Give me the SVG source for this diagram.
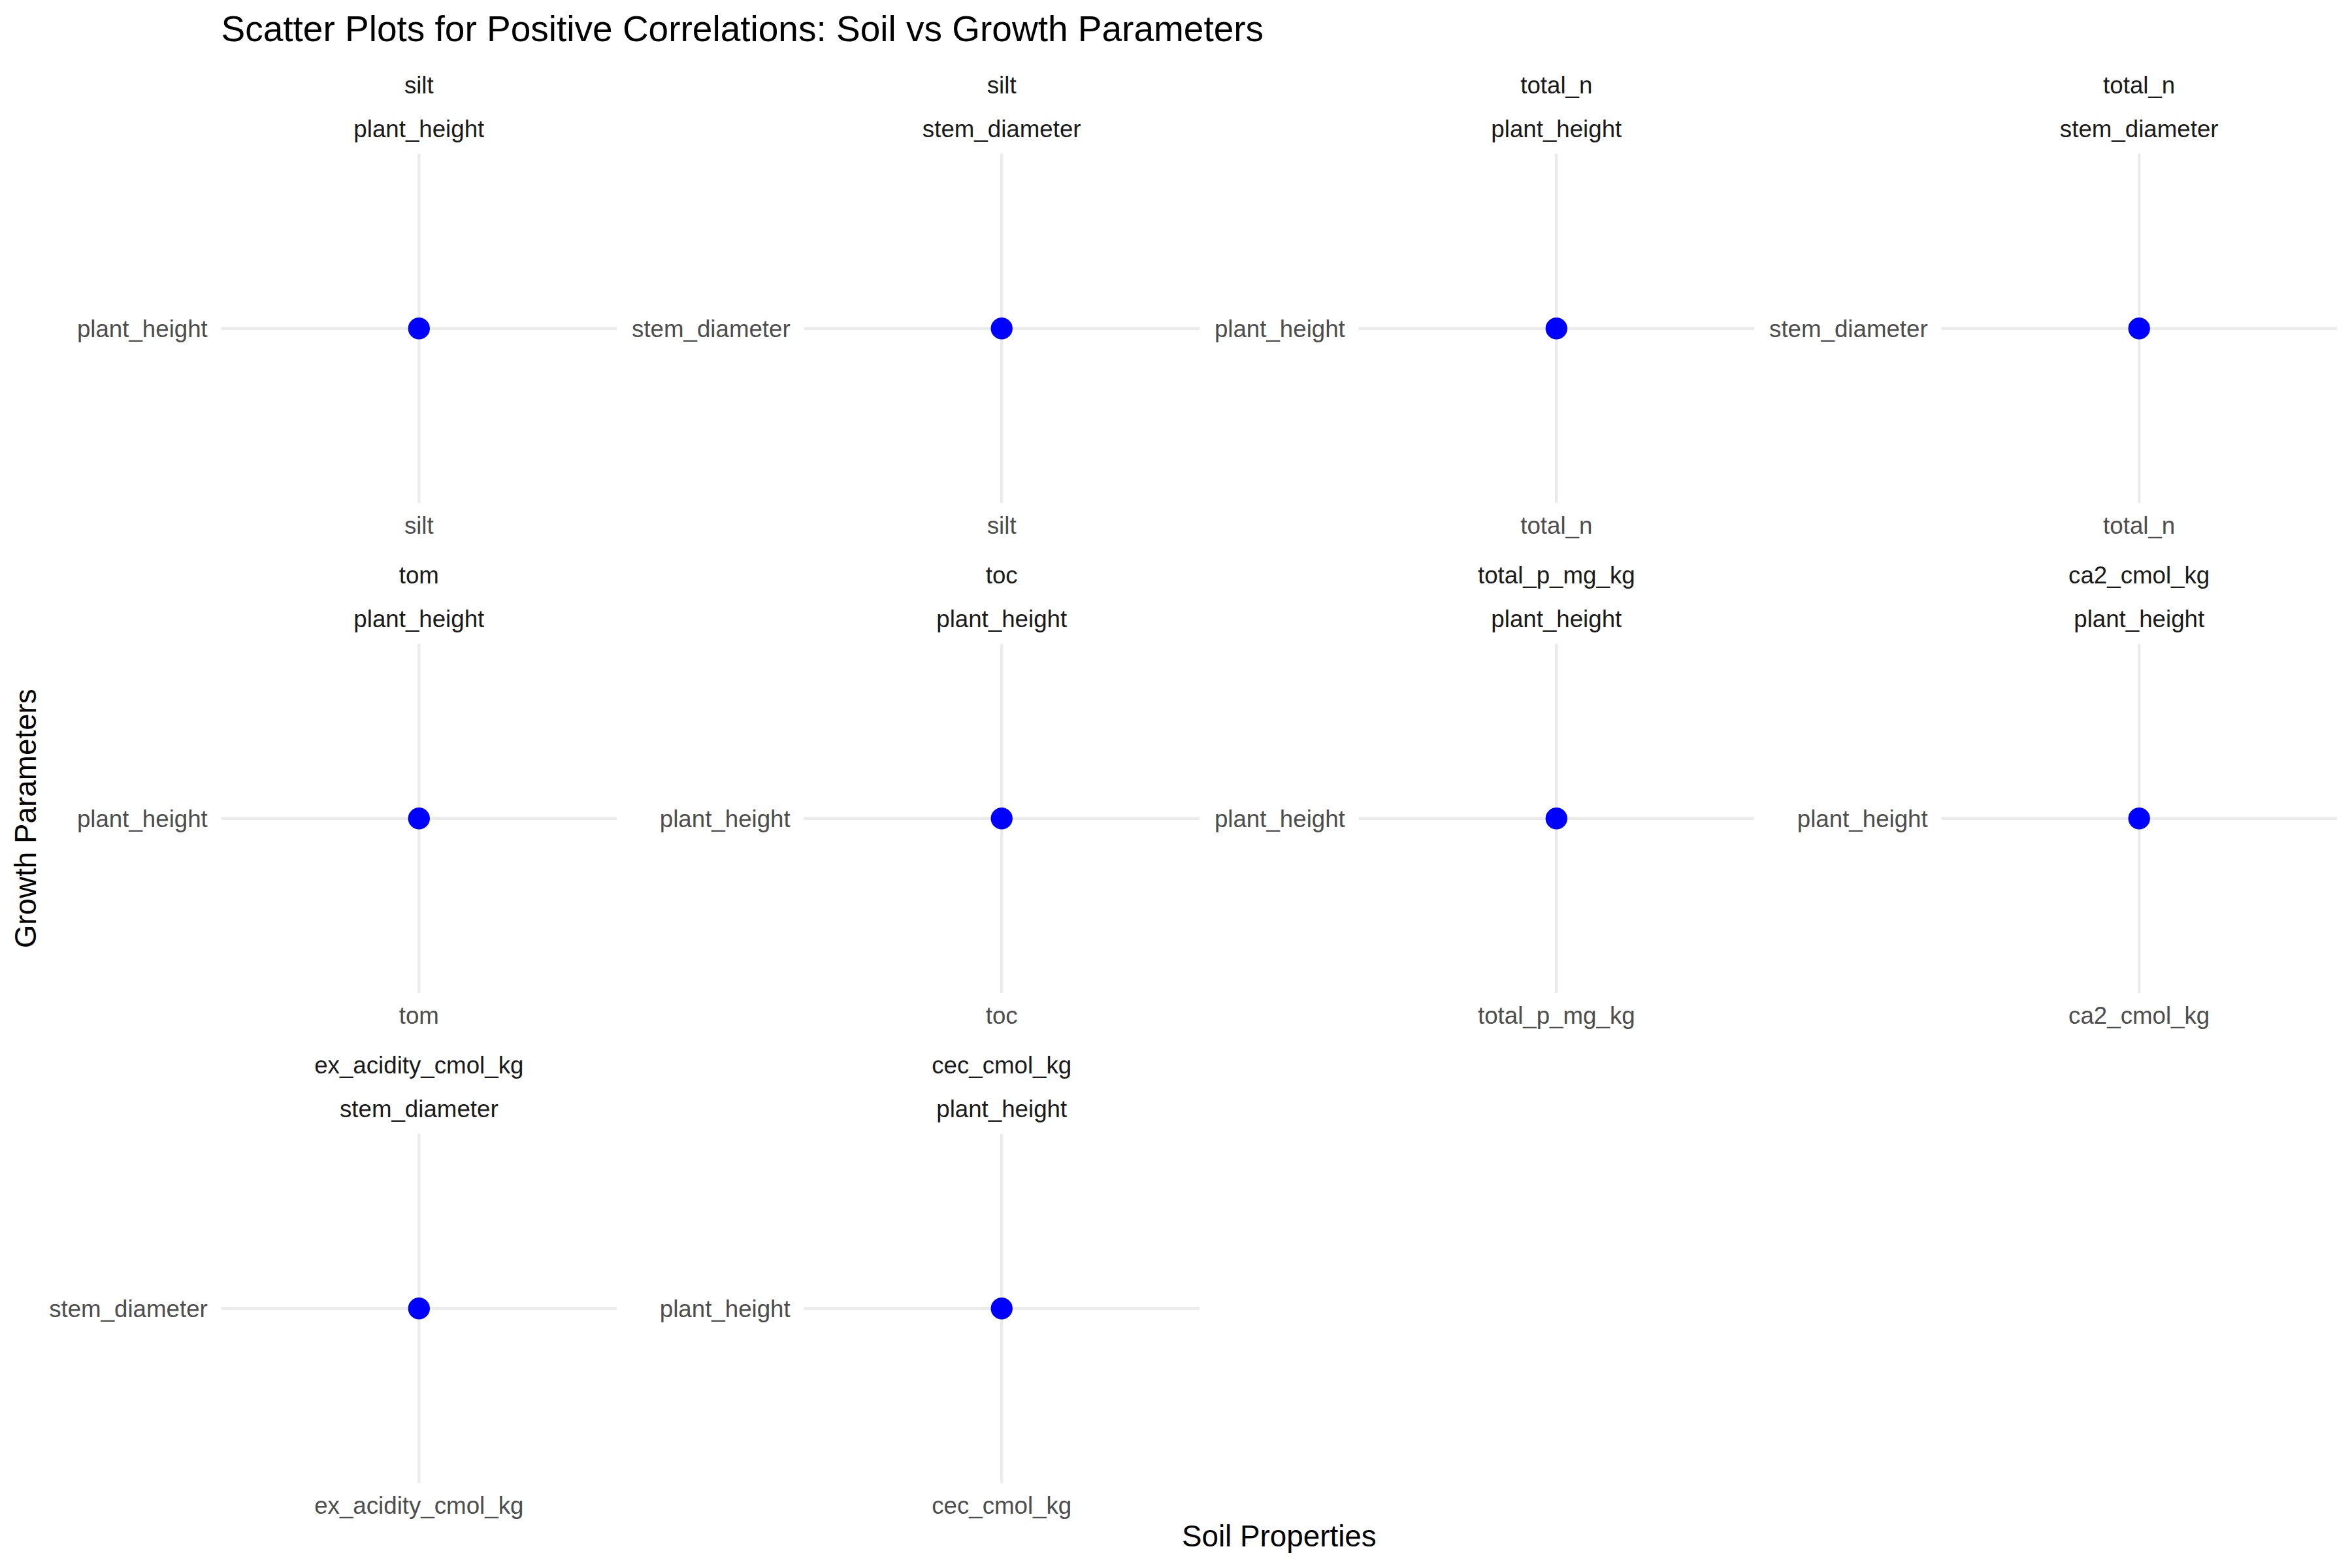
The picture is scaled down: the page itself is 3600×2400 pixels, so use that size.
<svg xmlns="http://www.w3.org/2000/svg" width="3600" height="2400" viewBox="0 0 3600 2400">
<style>
text{font-family:"Liberation Sans",Arial,Helvetica,sans-serif}
.title{font-size:55px;fill:#000000}
.axt{font-size:45.8px;fill:#000000}
.strip{font-size:36.7px;fill:#1A1A1A;text-anchor:middle}
.xl{font-size:36.7px;fill:#4D4D4D;text-anchor:middle}
.yl{font-size:36.7px;fill:#4D4D4D;text-anchor:end}
.grid{stroke:#EBEBEB;stroke-width:4.44;fill:none}
.pt{fill:#0000FF}
</style>
<rect width="3600" height="2400" fill="#FFFFFF"/>
<text id="title" class="title" x="338.5" y="62.5">Scatter Plots for Positive Correlations: Soil vs Growth Parameters</text>
<text id="xtitle" class="axt" x="1957.8" y="2367" text-anchor="middle">Soil Properties</text>
<text id="ytitle" class="axt" transform="translate(55,1252.75) rotate(-90)" text-anchor="middle">Growth Parameters</text>

<g id="connectors"></g>

<!-- Row 1 -->
<g id="panel-silt-plant_height">
<line class="grid" x1="338.5" y1="502.75" x2="944.1" y2="502.75"/>
<line class="grid" x1="641.3" y1="235.5" x2="641.3" y2="770"/>
<circle class="pt" cx="641.3" cy="502.75" r="16.7"/>
<text class="strip" x="641.3" y="143.3">silt</text>
<text class="strip" x="641.3" y="210">plant_height</text>
<text class="yl" x="317.8" y="515.8">plant_height</text>
<text class="xl" x="641.3" y="817">silt</text>
</g>
<g id="panel-silt-stem_diameter">
<line class="grid" x1="1230.4" y1="502.75" x2="1836" y2="502.75"/>
<line class="grid" x1="1533.2" y1="235.5" x2="1533.2" y2="770"/>
<circle class="pt" cx="1533.2" cy="502.75" r="16.7"/>
<text class="strip" x="1533.2" y="143.3">silt</text>
<text class="strip" x="1533.2" y="210">stem_diameter</text>
<text class="yl" x="1209.7" y="515.8">stem_diameter</text>
<text class="xl" x="1533.2" y="817">silt</text>
</g>
<g id="panel-total_n-plant_height">
<line class="grid" x1="2079.5" y1="502.75" x2="2685.1" y2="502.75"/>
<line class="grid" x1="2382.3" y1="235.5" x2="2382.3" y2="770"/>
<circle class="pt" cx="2382.3" cy="502.75" r="16.7"/>
<text class="strip" x="2382.3" y="143.3">total_n</text>
<text class="strip" x="2382.3" y="210">plant_height</text>
<text class="yl" x="2058.8" y="515.8">plant_height</text>
<text class="xl" x="2382.3" y="817">total_n</text>
</g>
<g id="panel-total_n-stem_diameter">
<line class="grid" x1="2971.4" y1="502.75" x2="3577" y2="502.75"/>
<line class="grid" x1="3274.2" y1="235.5" x2="3274.2" y2="770"/>
<circle class="pt" cx="3274.2" cy="502.75" r="16.7"/>
<text class="strip" x="3274.2" y="143.3">total_n</text>
<text class="strip" x="3274.2" y="210">stem_diameter</text>
<text class="yl" x="2950.7" y="515.8">stem_diameter</text>
<text class="xl" x="3274.2" y="817">total_n</text>
</g>

<!-- Row 2 -->
<g id="panel-tom-plant_height">
<line class="grid" x1="338.5" y1="1252.75" x2="944.1" y2="1252.75"/>
<line class="grid" x1="641.3" y1="985.5" x2="641.3" y2="1520"/>
<circle class="pt" cx="641.3" cy="1252.75" r="16.7"/>
<text class="strip" x="641.3" y="893.3">tom</text>
<text class="strip" x="641.3" y="960">plant_height</text>
<text class="yl" x="317.8" y="1265.8">plant_height</text>
<text class="xl" x="641.3" y="1567">tom</text>
</g>
<g id="panel-toc-plant_height">
<line class="grid" x1="1230.4" y1="1252.75" x2="1836" y2="1252.75"/>
<line class="grid" x1="1533.2" y1="985.5" x2="1533.2" y2="1520"/>
<circle class="pt" cx="1533.2" cy="1252.75" r="16.7"/>
<text class="strip" x="1533.2" y="893.3">toc</text>
<text class="strip" x="1533.2" y="960">plant_height</text>
<text class="yl" x="1209.7" y="1265.8">plant_height</text>
<text class="xl" x="1533.2" y="1567">toc</text>
</g>
<g id="panel-total_p_mg_kg-plant_height">
<line class="grid" x1="2079.5" y1="1252.75" x2="2685.1" y2="1252.75"/>
<line class="grid" x1="2382.3" y1="985.5" x2="2382.3" y2="1520"/>
<circle class="pt" cx="2382.3" cy="1252.75" r="16.7"/>
<text class="strip" x="2382.3" y="893.3">total_p_mg_kg</text>
<text class="strip" x="2382.3" y="960">plant_height</text>
<text class="yl" x="2058.8" y="1265.8">plant_height</text>
<text class="xl" x="2382.3" y="1567">total_p_mg_kg</text>
</g>
<g id="panel-ca2_cmol_kg-plant_height">
<line class="grid" x1="2971.4" y1="1252.75" x2="3577" y2="1252.75"/>
<line class="grid" x1="3274.2" y1="985.5" x2="3274.2" y2="1520"/>
<circle class="pt" cx="3274.2" cy="1252.75" r="16.7"/>
<text class="strip" x="3274.2" y="893.3">ca2_cmol_kg</text>
<text class="strip" x="3274.2" y="960">plant_height</text>
<text class="yl" x="2950.7" y="1265.8">plant_height</text>
<text class="xl" x="3274.2" y="1567">ca2_cmol_kg</text>
</g>

<!-- Row 3 -->
<g id="panel-ex_acidity_cmol_kg-stem_diameter">
<line class="grid" x1="338.5" y1="2002.75" x2="944.1" y2="2002.75"/>
<line class="grid" x1="641.3" y1="1735.5" x2="641.3" y2="2270"/>
<circle class="pt" cx="641.3" cy="2002.75" r="16.7"/>
<text class="strip" x="641.3" y="1643.3">ex_acidity_cmol_kg</text>
<text class="strip" x="641.3" y="1710">stem_diameter</text>
<text class="yl" x="317.8" y="2015.8">stem_diameter</text>
<text class="xl" x="641.3" y="2317">ex_acidity_cmol_kg</text>
</g>
<g id="panel-cec_cmol_kg-plant_height">
<line class="grid" x1="1230.4" y1="2002.75" x2="1836" y2="2002.75"/>
<line class="grid" x1="1533.2" y1="1735.5" x2="1533.2" y2="2270"/>
<circle class="pt" cx="1533.2" cy="2002.75" r="16.7"/>
<text class="strip" x="1533.2" y="1643.3">cec_cmol_kg</text>
<text class="strip" x="1533.2" y="1710">plant_height</text>
<text class="yl" x="1209.7" y="2015.8">plant_height</text>
<text class="xl" x="1533.2" y="2317">cec_cmol_kg</text>
</g>
</svg>
